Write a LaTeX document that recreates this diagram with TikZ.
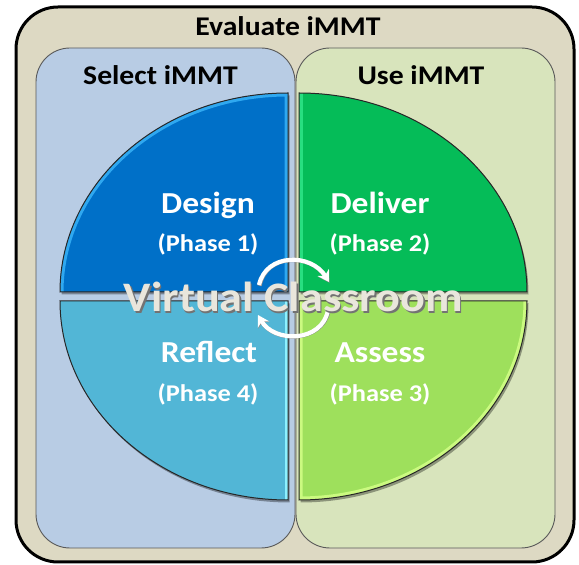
\documentclass[tikz,border=0pt]{standalone}
\usepackage{fontspec}
\setmainfont{Carlito}[FakeStretch=1.1]
\usetikzlibrary{arrows.meta}
\definecolor{outerfill}{HTML}{DDD9C3}
\definecolor{leftfill}{HTML}{B8CCE4}
\definecolor{rightfill}{HTML}{D8E4BC}
\definecolor{bluefill}{HTML}{0070C8}
\definecolor{bluehl}{HTML}{2FA8F0}
\definecolor{greenfill}{HTML}{05BC58}
\definecolor{greenhl}{HTML}{28DE80}
\definecolor{limefill}{HTML}{9EE05C}
\definecolor{limehl}{HTML}{CBFA80}
\definecolor{cyanfill}{HTML}{52B6D6}
\definecolor{cyanhl}{HTML}{8CF0FF}
\definecolor{vctext}{HTML}{E9E6DC}
\tikzset{
  panelbox/.style={draw=black!65!white,line width=0.9pt},
  headtext/.style={font=\bfseries\fontsize{27}{32}\selectfont,text=black,inner sep=0pt,anchor=base},
  titletext/.style={font=\bfseries\fontsize{30.5}{36}\selectfont,text=white,inner sep=0pt,anchor=base},
  phasetext/.style={font=\bfseries\fontsize{24}{28}\selectfont,text=white,inner sep=0pt,anchor=base},
  vcfont/.style={font=\bfseries\fontsize{42}{48}\selectfont,inner sep=0pt,anchor=base},
  cyclearc/.style={line width=4.2pt,draw=#1,-{Stealth[length=11pt,width=13pt]}},
}
% #1 outline, #2 fill, #3 highlight colour, #4 open path carrying the highlight
\newcommand{\quarterpiece}[4]{%
  \fill[black,opacity=0.35] [shift={(1.5,-2.5)}] #1 -- cycle;
  \begin{scope}
    \clip #1 -- cycle;
    \fill[#2] #1 -- cycle;
    \draw[#3,line width=7pt] #4;
  \end{scope}
  \draw[black!85,line width=1pt] #1 -- cycle;
}
\begin{document}
\begin{tikzpicture}[x=1pt,y=1pt]
\useasboundingbox (0,0) rectangle (579,565);
\fill[white] (0,0) rectangle (579,565);
\draw[line width=3pt,fill=outerfill,rounded corners=42pt] (16,3) rectangle (574,558);
\draw[panelbox,fill=leftfill,rounded corners=34pt] (36,17) rectangle (295,517);
\draw[panelbox,fill=rightfill,rounded corners=34pt] (296,17) rectangle (555,517);
\node[headtext] (evaluate) at (288,529) {Evaluate iMMT};
\node[headtext] (select) at (160.5,480) {Select iMMT};
\node[headtext] (use) at (421,480) {Use iMMT};
\quarterpiece{(288,273) -- (60,273) arc[start angle=180,end angle=90,x radius=228,y radius=199]}{bluefill}{bluehl}{(60,273) arc[start angle=180,end angle=90,x radius=228,y radius=199] -- (288,273)}
\quarterpiece{(299,273) -- (299,472) arc[start angle=90,end angle=0,x radius=228,y radius=199]}{greenfill}{greenhl}{(299,273) -- (299,472)}
\quarterpiece{(299,264) -- (527,264) arc[start angle=0,end angle=-90,x radius=228,y radius=199]}{limefill}{limehl}{(527,264) arc[start angle=0,end angle=-90,x radius=228,y radius=199] -- (299,264)}
\quarterpiece{(288,264) -- (288,65) arc[start angle=-90,end angle=-180,x radius=228,y radius=199]}{cyanfill}{cyanhl}{(288,264) -- (288,65)}
\node[titletext] (design) at (208,351) {Design};
\node[phasetext] (p1) at (208,313) {(Phase 1)};
\node[titletext] (deliver) at (380,351) {Deliver};
\node[phasetext] (p2) at (380,313) {(Phase 2)};
\node[titletext] (reflect) at (209,202) {Reflect};
\node[phasetext] (p4) at (208,163) {(Phase 4)};
\node[titletext] (assess) at (380,202) {Assess};
\node[phasetext] (p3) at (380,163) {(Phase 3)};
\coordinate (topstart) at (259,280);
\coordinate (topend) at (329,283);
\coordinate (botstart) at (328,255);
\coordinate (botend) at (258,250);
\draw[cyclearc=black!45] ([shift={(0.6,-0.8)}]topstart) .. controls (266,312) and (311,312) .. ([shift={(0.6,-0.8)}]topend);
\draw[cyclearc=black!45] ([shift={(0.6,-0.8)}]botstart) .. controls (322,222) and (274,222) .. ([shift={(0.6,-0.8)}]botend);
\draw[cyclearc=white] (topstart) .. controls (266,312) and (311,312) .. (topend);
\draw[cyclearc=white] (botstart) .. controls (322,222) and (274,222) .. (botend);
\node[vcfont,text=black!55] (vcshadow) at (294.8,251.5) {Virtual Classroom};
\node[vcfont,text=vctext] (vc) at (293.5,253) {Virtual Classroom};
\end{tikzpicture}
\end{document}
